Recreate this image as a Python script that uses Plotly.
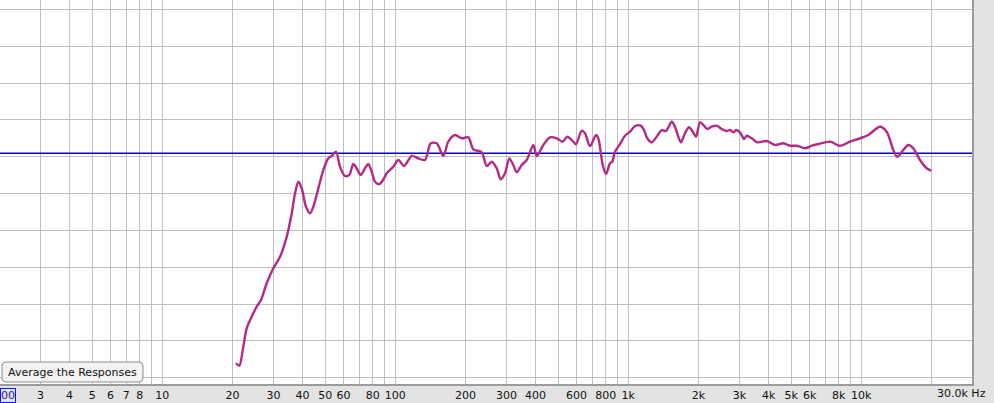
import plotly.graph_objects as go

# ---- data (frequency in Hz, level in dB) ----
FREQ_HZ = [
    20.72, 21.41, 22.26, 23.02, 24.19, 25.42, 26.52, 28.06, 29.95, 32.01,
    34.20, 35.94, 37.12, 38.35, 39.66, 41.38, 43.05, 44.48, 46.73, 49.10,
    51.59, 53.33, 55.65, 57.90, 60.82, 63.47, 66.01, 68.27, 71.03, 74.13,
    76.58, 79.20, 81.84, 85.39, 88.58, 91.87, 98.04, 103.0, 109.0, 117.6,
    125.5, 134.1, 141.9, 150.5, 160.7, 168.8, 180.4, 192.8, 205.8, 216.2,
    234.9, 246.8, 259.3, 272.4, 283.4, 295.7, 308.5, 320.9, 331.9, 348.7,
    366.4, 391.1, 404.5, 431.7, 461.3, 492.8, 523.0, 547.3, 580.7, 596.4,
    631.0, 651.9, 684.9, 726.9, 743.5, 776.6, 802.4, 834.8, 853.9, 877.0,
    921.1, 967.8, 1017, 1069, 1130, 1168, 1206, 1260, 1324, 1391,
    1451, 1536, 1586, 1639, 1683, 1751, 1822, 1890, 1953, 2031,
    2113, 2183, 2280, 2395, 2517, 2626, 2733, 2823, 2899, 3016,
    3138, 3222, 3385, 3577, 3926, 4262, 4627, 4943, 5280, 5456,
    5733, 6125, 6539, 7340, 8101, 8944, 9872, 10715, 12033, 12853,
    13720, 14272, 15149, 15910, 16716, 17862, 19084, 19914,
]
LEVEL_DB = [
    -28.04, -28.37, -25.79, -23.29, -21.72, -20.36, -19.45, -17.18, -15.15, -13.57,
    -10.86, -7.68, -4.97, -3.39, -4.29, -6.79, -7.68, -6.79, -4.29, -1.81,
    -0.22, 0.10, 0.68, -1.36, -2.62, -2.48, -0.99, -1.57, -2.48, -1.57,
    -0.99, -2.04, -3.39, -3.71, -3.16, -2.25, -1.36, -0.45, -1.26, 0.10,
    -0.22, -0.45, 1.82, 1.82, 0.10, 2.04, 2.95, 2.50, 2.63, 1.00,
    0.60, -1.26, -0.68, -1.57, -3.07, -2.25, -0.22, -1.13, -2.12, -1.13,
    -0.45, 1.59, 0.10, 1.59, 2.63, 2.50, 2.04, 2.71, 2.04, 1.68,
    3.53, 3.18, 1.45, 2.95, 2.50, -1.13, -2.35, -0.90, -0.68, 0.68,
    1.72, 2.85, 3.39, 4.17, 4.21, 3.62, 2.50, 1.95, 2.71, 3.62,
    3.49, 4.75, 4.07, 2.71, 1.95, 3.18, 3.99, 3.39, 2.71, 4.67,
    4.21, 3.76, 4.07, 4.21, 3.76, 3.49, 3.62, 3.31, 3.62, 3.31,
    2.40, 2.85, 2.50, 1.95, 2.13, 1.59, 1.82, 1.49, 1.49, 1.36,
    1.14, 1.49, 1.72, 2.04, 1.49, 2.04, 2.50, 2.95, 4.07, 3.39,
    0.91, 0.00, 0.91, 1.59, 1.14, -0.45, -1.57, -1.90,
]

REF_LEVEL_DB = 0.46

GRID_FREQS = [3, 4, 5, 6, 7, 8, 9, 10, 20, 30, 40, 50, 60, 70, 80, 90,
              100, 200, 300, 400, 500, 600, 700, 800, 900, 1000,
              2000, 3000, 4000, 5000, 6000, 7000, 8000, 9000, 10000, 20000]
TICK_LABELS = ["3", "4", "5", "6", "7", "8", "", "10", "20", "30", "40", "50", "60", "", "80", "",
               "100", "200", "300", "400", "", "600", "", "800", "", "1k",
               "2k", "3k", "4k", "5k", "6k", "", "8k", "", "10k", ""]
LEVEL_GRID = [-30, -25, -20, -15, -10, -5, 0, 5, 10, 15, 20]

X_RANGE_LOG = [0.3034, 4.4751]
Y_RANGE = [-30.85, 21.27]

W, H = 994, 403
ML, MR, MT, MB = 0, 22, 0, 19
PW, PH = W - ML - MR, H - MT - MB

fig = go.Figure()

# reference level line
fig.add_trace(go.Scatter(
    x=[10 ** X_RANGE_LOG[0], 10 ** X_RANGE_LOG[1]],
    y=[REF_LEVEL_DB, REF_LEVEL_DB],
    mode="lines", line=dict(color="#0000c8", width=1.4),
    hoverinfo="skip", showlegend=False,
))

fig.add_trace(go.Scatter(
    x=FREQ_HZ, y=LEVEL_DB, mode="lines",
    line=dict(color="#b22a86", width=2.4, shape="spline", smoothing=0.8),
    showlegend=False,
))

# "Average the Responses" button (rounded rectangle)
bx0, bx1, by0, by1, r = 2, 143, 362, 382, 4
def px(x): return x / PW
def py(y): return (PH - y) / PH
path = (
    f"M {px(bx0 + r)},{py(by0)} L {px(bx1 - r)},{py(by0)} "
    f"Q {px(bx1)},{py(by0)} {px(bx1)},{py(by0 + r)} "
    f"L {px(bx1)},{py(by1 - r)} Q {px(bx1)},{py(by1)} {px(bx1 - r)},{py(by1)} "
    f"L {px(bx0 + r)},{py(by1)} Q {px(bx0)},{py(by1)} {px(bx0)},{py(by1 - r)} "
    f"L {px(bx0)},{py(by0 + r)} Q {px(bx0)},{py(by0)} {px(bx0 + r)},{py(by0)} Z"
)
fig.add_shape(type="path", path=path, xref="paper", yref="paper",
              fillcolor="#f3f3f3", line=dict(color="#8c8c8c", width=1), layer="above")
fig.add_annotation(text="Average the Responses", xref="paper", yref="paper",
                   x=px((bx0 + bx1) / 2), y=py((by0 + by1) / 2),
                   showarrow=False, font=dict(family="DejaVu Sans", size=11, color="#111111"),
                   xanchor="center", yanchor="middle")

# right-hand "30.0k Hz" label and boxed start value
fig.add_annotation(text="30.0k Hz", xref="paper", yref="paper",
                   x=(988) / PW, y=-9.5 / PH, xanchor="right", yanchor="middle",
                   showarrow=False, font=dict(family="DejaVu Sans", size=11, color="#111111"))
fig.add_annotation(text="00", xref="paper", yref="paper",
                   x=0, y=-11 / PH, xanchor="left", yanchor="middle",
                   showarrow=False, bordercolor="#1010ff", borderwidth=1, borderpad=0,
                   font=dict(family="DejaVu Sans", size=11, color="#1a1aa0"))

fig.update_layout(
    width=W, height=H,
    margin=dict(l=ML, r=MR, t=MT, b=MB, pad=0),
    paper_bgcolor="#e3e3e3",
    plot_bgcolor="#ffffff",
    xaxis=dict(
        type="log", range=X_RANGE_LOG,
        tickmode="array", tickvals=GRID_FREQS, ticktext=TICK_LABELS,
        showgrid=True, gridcolor="#bfbfbf", gridwidth=1,
        ticks="", zeroline=False,
        showline=True, linecolor="#9c9c9c", linewidth=1.5,
        tickfont=dict(family="DejaVu Sans", size=11, color="#111111"),
        fixedrange=True,
    ),
    yaxis=dict(
        range=Y_RANGE, tickmode="array", tickvals=LEVEL_GRID,
        showticklabels=False, ticks="", zeroline=False,
        showgrid=True, gridcolor="#bfbfbf", gridwidth=1,
        side="right", showline=True, linecolor="#9c9c9c", linewidth=1.5,
        fixedrange=True,
    ),
)

fig.write_html("out.html", config={"displayModeBar": False},
               post_script="document.body.style.margin='0';document.body.style.overflow='hidden';")
